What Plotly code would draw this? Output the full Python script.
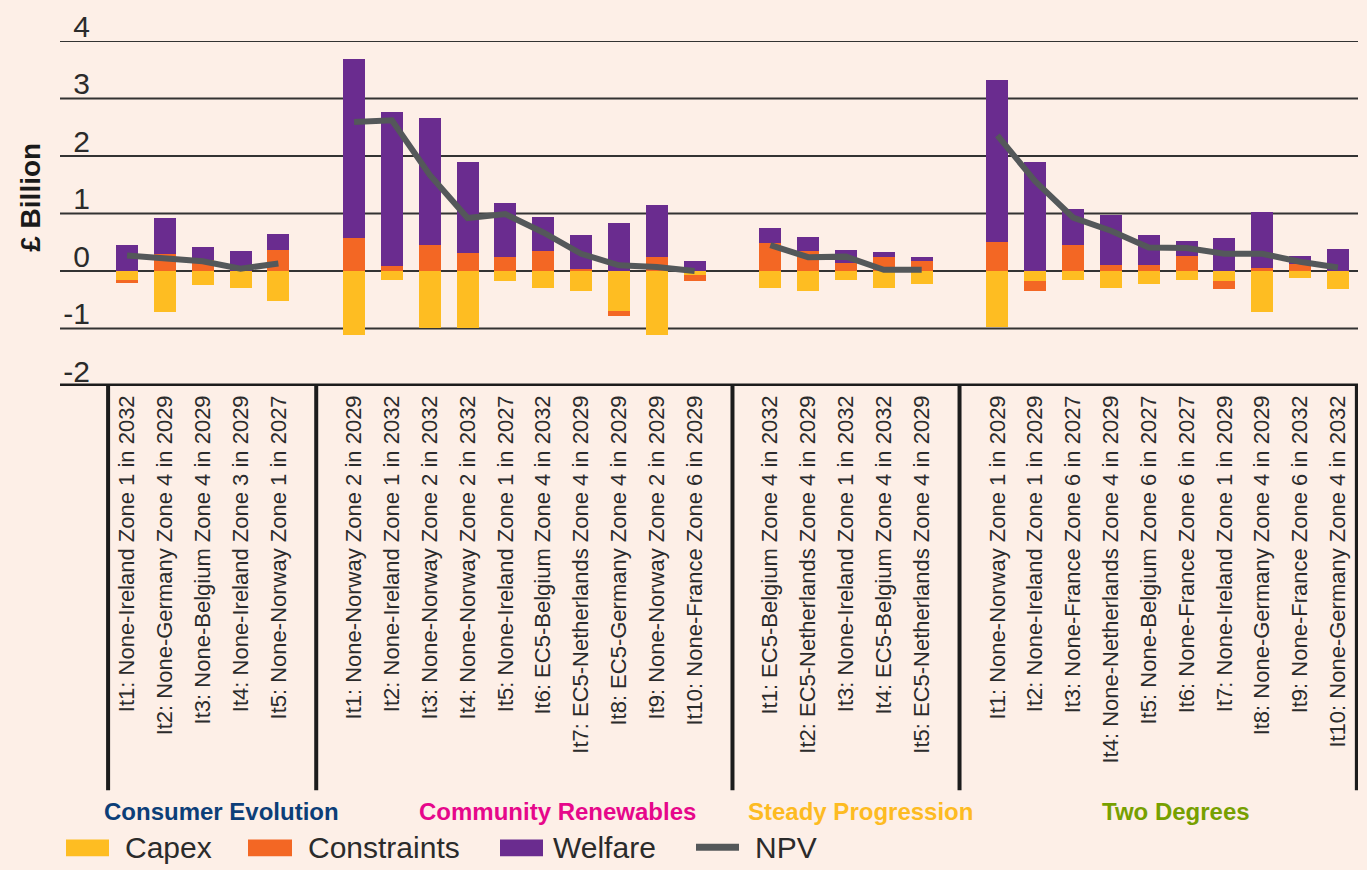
import plotly.graph_objects as go

# ---------------- data ----------------
groups = ["Consumer Evolution", "Community Renewables", "Steady Progression", "Two Degrees"]
group_colors = ["#0c3e78", "#e6078b", "#fdbb22", "#77a000"]

labels_ce = ["It1: None-Ireland Zone 1 in 2032", "It2: None-Germany Zone 4 in 2029",
             "It3: None-Belgium Zone 4 in 2029", "It4: None-Ireland Zone 3 in 2029",
             "It5: None-Norway Zone 1 in 2027"]
labels_cr = ["It1: None-Norway Zone 2 in 2029", "It2: None-Ireland Zone 1 in 2032",
             "It3: None-Norway Zone 2 in 2032", "It4: None-Norway Zone 2 in 2032",
             "It5: None-Ireland Zone 1 in 2027", "It6: EC5-Belgium Zone 4 in 2032",
             "It7: EC5-Netherlands Zone 4 in 2029", "It8: EC5-Germany Zone 4 in 2029",
             "It9: None-Norway Zone 2 in 2029", "It10: None-France Zone 6 in 2029"]
labels_sp = ["It1: EC5-Belgium Zone 4 in 2032", "It2: EC5-Netherlands Zone 4 in 2029",
             "It3: None-Ireland Zone 1 in 2032", "It4: EC5-Belgium Zone 4 in 2032",
             "It5: EC5-Netherlands Zone 4 in 2029"]
labels_td = ["It1: None-Norway Zone 1 in 2029", "It2: None-Ireland Zone 1 in 2029",
             "It3: None-France Zone 6 in 2027", "It4: None-Netherlands Zone 4 in 2029",
             "It5: None-Belgium Zone 6 in 2027", "It6: None-France Zone 6 in 2027",
             "It7: None-Ireland Zone 1 in 2029", "It8: None-Germany Zone 4 in 2029",
             "It9: None-France Zone 6 in 2032", "It10: None-Germany Zone 4 in 2032"]
group_labels = [labels_ce, labels_cr, labels_sp, labels_td]

# £ billion, one list per scenario
capex_ce = [-0.15, -0.71, -0.25, -0.30, -0.53]
constraints_ce = [-0.05, 0.29, 0.20, 0.00, 0.36]
welfare_ce = [0.46, 0.64, 0.21, 0.34, 0.28]
npv_ce = [0.27, 0.22, 0.17, 0.04, 0.13]

capex_cr = [-1.11, -0.15, -0.99, -0.99, -0.18, -0.29, -0.35, -0.70, -1.11, -0.07]
constraints_cr = [0.57, 0.09, 0.46, 0.31, 0.24, 0.34, 0.04, -0.08, 0.24, -0.11]
welfare_cr = [3.12, 2.67, 2.20, 1.59, 0.94, 0.60, 0.59, 0.84, 0.91, 0.17]
npv_cr = [2.59, 2.62, 1.67, 0.92, 0.99, 0.67, 0.30, 0.10, 0.07, 0.00]

capex_sp = [-0.29, -0.35, -0.15, -0.29, -0.23]
constraints_sp = [0.48, 0.34, 0.14, 0.24, 0.17]
welfare_sp = [0.26, 0.26, 0.23, 0.09, 0.07]
npv_sp = [0.45, 0.24, 0.25, 0.02, 0.02]

capex_td = [-0.97, -0.17, -0.15, -0.30, -0.22, -0.15, -0.17, -0.72, -0.13, -0.32]
constraints_td = [0.50, -0.17, 0.46, 0.11, 0.11, 0.26, -0.14, 0.06, 0.13, 0.00]
welfare_td = [2.83, 1.89, 0.62, 0.87, 0.51, 0.27, 0.57, 0.96, 0.13, 0.38]
npv_td = [2.36, 1.56, 0.93, 0.70, 0.41, 0.40, 0.30, 0.30, 0.16, 0.06]

capex = [capex_ce, capex_cr, capex_sp, capex_td]
constraints = [constraints_ce, constraints_cr, constraints_sp, constraints_td]
welfare = [welfare_ce, welfare_cr, welfare_sp, welfare_td]
npv = [npv_ce, npv_cr, npv_sp, npv_td]

y_ticks = [-2, -1, 0, 1, 2, 3, 4]
y_ticktext = ["-2", "-1", "0", "1", "2", "3", "4"]

# ---------------- styling ----------------
BG = "#fdefe7"
C_CAPEX = "#febd22"
C_CONS = "#f36724"
C_WELF = "#6a2c8f"
C_NPV = "#54585a"
TXT = "#2b2b2b"
FONT = "Liberation Sans"

W, H = 1367, 870
PL, PR, PT, PB = 95, 1358, 36, 386


def px(x):
    return (x - PL) / (PR - PL)


def py(y):
    return (PB - y) / (PB - PT)


# positions: one empty slot between scenario groups
xs, flat_lbl, fc, fk, fw = [], [], [], [], []
npv_x, npv_y = [], []
group_bounds = []
start = 0
for gi, lbls in enumerate(group_labels):
    n = len(lbls)
    pos = [start + i for i in range(n)]
    xs += pos
    flat_lbl += lbls
    fc += capex[gi]
    fk += constraints[gi]
    fw += welfare[gi]
    npv_x += pos + [start + n]
    npv_y += npv[gi] + [None]
    group_bounds.append((start - 0.5, start + n - 0.5))
    start += n + 1

fig = go.Figure()
bw = 0.58
fig.add_trace(go.Bar(x=xs, y=fc, name="Capex", marker=dict(color=C_CAPEX, line_width=0), width=bw))
fig.add_trace(go.Bar(x=xs, y=fk, name="Constraints", marker=dict(color=C_CONS, line_width=0), width=bw))
fig.add_trace(go.Bar(x=xs, y=fw, name="Welfare", marker=dict(color=C_WELF, line_width=0), width=bw))
fig.add_trace(go.Scatter(x=npv_x, y=npv_y, name="NPV", mode="lines", connectgaps=False,
                         line=dict(color=C_NPV, width=6)))

shapes = []
# horizontal gridlines extending left of the plot area
for v in y_ticks[1:]:
    shapes.append(dict(type="line", xref="paper", yref="y", x0=px(60), x1=1, y0=v, y1=v,
                       line=dict(color="#333333", width=2), layer="below"))
# thick baseline
shapes.append(dict(type="line", xref="paper", yref="y", x0=px(60), x1=1, y0=y_ticks[0], y1=y_ticks[0],
                   line=dict(color="#1c1c1c", width=5)))
# group separators
sep_x = [group_bounds[0][0]] + [b[1] + 0.5 for b in group_bounds[:-1]] + [group_bounds[-1][1]]
for sx in sep_x:
    shapes.append(dict(type="line", xref="x", yref="paper", x0=sx, x1=sx, y0=0, y1=py(796),
                       line=dict(color="#1c1c1c", width=4)))

annotations = []
# group titles
g_centres = [221, 557, 860, 1176]
for g, col, cx in zip(groups, group_colors, g_centres):
    annotations.append(dict(text="<b>" + g + "</b>", xref="paper", yref="paper", x=px(cx), y=py(818),
                            showarrow=False, xanchor="center", yanchor="middle",
                            font=dict(family=FONT, size=24, color=col)))
# y title
annotations.append(dict(text="<b>£ Billion</b>", xref="paper", yref="paper", x=px(31), y=py(195),
                        textangle=-90, showarrow=False, xanchor="center", yanchor="middle",
                        font=dict(family=FONT, size=28, color="#1a1a1a")))

# custom legend
leg_y = 854
for (x0, x1, col, name, tx) in [(66, 109, C_CAPEX, "Capex", 123),
                                 (248, 292, C_CONS, "Constraints", 306),
                                 (500, 543, C_WELF, "Welfare", 551)]:
    shapes.append(dict(type="rect", xref="paper", yref="paper", x0=px(x0), x1=px(x1),
                       y0=py(863), y1=py(846), fillcolor=col, line_width=0))
    annotations.append(dict(text=name, xref="paper", yref="paper", x=px(tx), y=py(leg_y),
                            showarrow=False, xanchor="left", yanchor="middle",
                            font=dict(family=FONT, size=30, color=TXT)))
shapes.append(dict(type="line", xref="paper", yref="paper", x0=px(696), x1=px(739),
                   y0=py(leg_y), y1=py(leg_y), line=dict(color=C_NPV, width=7)))
annotations.append(dict(text="NPV", xref="paper", yref="paper", x=px(753), y=py(leg_y),
                        showarrow=False, xanchor="left", yanchor="middle",
                        font=dict(family=FONT, size=30, color=TXT)))

fig.update_layout(
    width=W, height=H,
    margin=dict(l=PL, r=W - PR, t=PT, b=H - PB, pad=0),
    paper_bgcolor=BG, plot_bgcolor=BG,
    barmode="relative", bargap=0,
    showlegend=False,
    font=dict(family=FONT, color=TXT),
    shapes=shapes, annotations=annotations,
)
fig.update_xaxes(range=[-0.846, 32.53], tickmode="array", tickvals=xs, ticktext=flat_lbl,
                 tickangle=-90, tickfont=dict(family=FONT, size=22, color=TXT),
                 showgrid=False, zeroline=False, showline=False, ticks="",
                 ticklabelstandoff=4)
fig.update_yaxes(range=[-2, 4], tickmode="array", tickvals=y_ticks, ticktext=y_ticktext,
                 tickfont=dict(family=FONT, size=30, color=TXT),
                 showgrid=False, zeroline=False, showline=False, ticks="",
                 ticklabelshift=-15, ticklabelstandoff=4)

page_js = ("document.body.style.margin='0';document.body.style.padding='0';"
           "document.body.style.background='" + BG + "';"
           "document.documentElement.style.overflow='hidden';")
fig.write_html("out.html", post_script=page_js, config={"displayModeBar": False})
